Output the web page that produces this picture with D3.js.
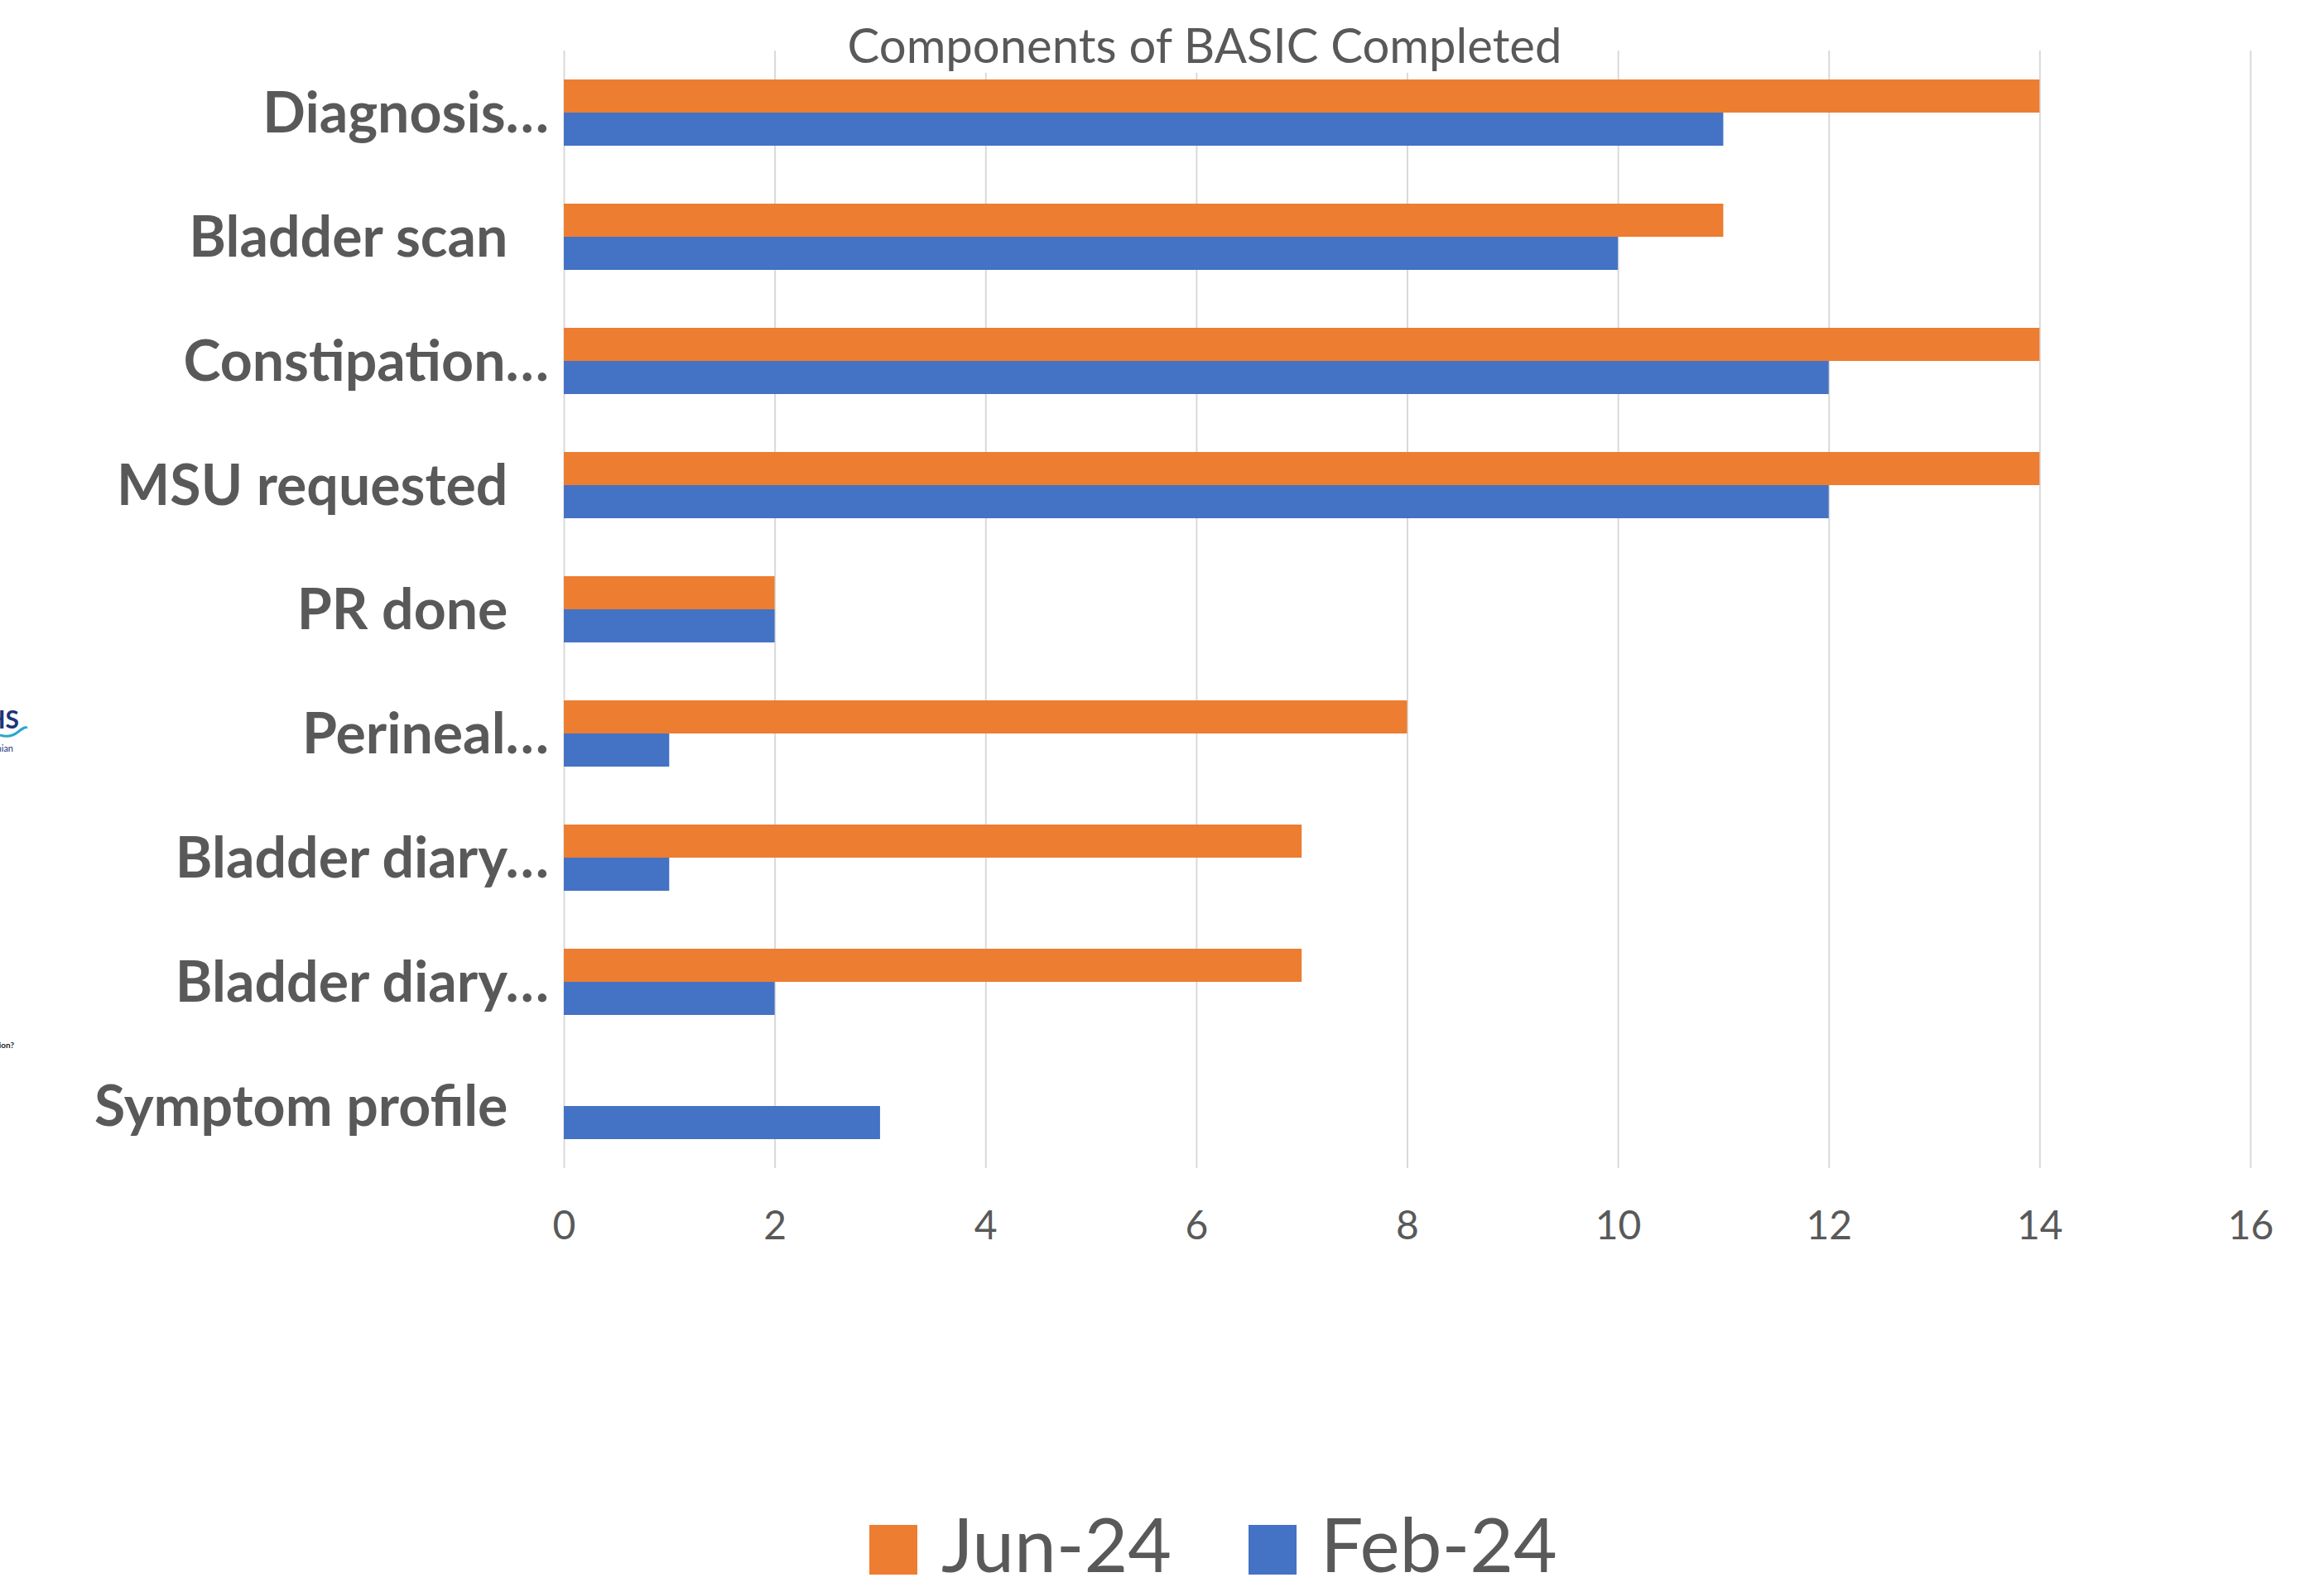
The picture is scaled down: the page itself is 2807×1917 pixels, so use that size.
<!DOCTYPE html>
<html>
<head>
<meta charset="utf-8">
<script src="https://cdn.jsdelivr.net/npm/d3@7"></script>
<style>
    html, body { margin: 0; padding: 0; background: #fff; }
    svg text { font-family: Lato, "Open Sans", sans-serif; }
</style>
</head>
<body>
<svg id="chart" width="2807" height="1917"></svg>
<script>
// categories top to bottom; trailing nbsp kept from the original labels
const categories = [
    'Diagnosis…',
    'Bladder scan\u00A0\u00A0\u00A0',
    'Constipation…',
    'MSU requested\u00A0\u00A0\u00A0',
    'PR done\u00A0\u00A0\u00A0',
    'Perineal…',
    'Bladder diary…',
    'Bladder diary… ',
    'Symptom profile\u00A0\u00A0\u00A0'
];
const seriesNames = ['Jun-24', 'Feb-24'];
const jun24 = [14, 11, 14, 14, 2, 8, 7, 7, 0];
const feb24 = [11, 10, 12, 12, 2, 1, 1, 2, 3];
const xTicks = [0, 2, 4, 6, 8, 10, 12, 14, 16];
const colors = {'Jun-24': '#ED7D31', 'Feb-24': '#4472C4'};

const TEXT = '#595959', GRID = '#D9D9D9';
const LEFT = 681, RIGHT = 2718, TOP = 61, BOTTOM = 1411;

const svg = d3.select('#chart');

const x = d3.scaleLinear().domain([0, 16]).range([LEFT, RIGHT]);
const y = d3.scaleBand().domain(categories).range([TOP, BOTTOM]);
const ySub = d3.scaleBand().domain(seriesNames).range([0, y.bandwidth()]).paddingOuter(0.875);

// gridlines + value labels
const xAxis = svg.append('g')
    .attr('transform', 'translate(0,' + BOTTOM + ')')
    .call(d3.axisBottom(x)
        .tickValues(xTicks)
        .tickSize(-(BOTTOM - TOP))
        .tickPadding(52)
        .tickFormat(d3.format('d')));
xAxis.select('.domain').remove();
xAxis.selectAll('.tick line').attr('stroke', GRID).attr('stroke-width', 2);
xAxis.selectAll('.tick text')
    .attr('fill', TEXT)
    .style('font-size', '48px');

// bars
const rows = categories.map((c, i) => ({cat: c, values: [
    {name: 'Jun-24', value: jun24[i]},
    {name: 'Feb-24', value: feb24[i]}
]}));

svg.append('g').selectAll('g')
    .data(rows)
    .enter()
    .append('g')
    .attr('transform', d => 'translate(0,' + y(d.cat) + ')')
    .selectAll('rect')
    .data(d => d.values.filter(v => v.value > 0))
    .enter()
    .append('rect')
    .attr('x', x(0))
    .attr('y', d => ySub(d.name))
    .attr('width', d => x(d.value) - x(0))
    .attr('height', ySub.bandwidth())
    .attr('fill', d => colors[d.name]);

// category labels
const yAxis = svg.append('g')
    .attr('transform', 'translate(' + LEFT + ',0)')
    .call(d3.axisLeft(y).tickSize(0).tickPadding(18));
yAxis.select('.domain').remove();
yAxis.selectAll('.tick text')
    .attr('fill', TEXT)
    .attr('dy', '0.36em')
    .style('font-size', '68px')
    .style('font-weight', 'bold');

// title, on a white box that hides the top of the gridlines
const titleG = svg.append('g');
const title = titleG.append('text')
    .attr('x', 1455)
    .attr('y', 76)
    .attr('text-anchor', 'middle')
    .attr('fill', TEXT)
    .style('font-size', '58px')
    .text('Components of BASIC Completed');
const tb = title.node().getBBox();
titleG.insert('rect', 'text')
    .attr('x', tb.x - 8).attr('y', 0)
    .attr('width', tb.width + 16).attr('height', 88)
    .attr('fill', '#fff');

// legend
const legend = svg.append('g').attr('transform', 'translate(0,1842)');
const legendX = {'Jun-24': 1050, 'Feb-24': 1508};
const item = legend.selectAll('g')
    .data(seriesNames)
    .enter()
    .append('g')
    .attr('transform', d => 'translate(' + legendX[d] + ',0)');
item.append('rect')
    .attr('width', 58).attr('height', 60)
    .attr('fill', d => colors[d]);
item.append('text')
    .attr('x', 87).attr('y', 57)
    .attr('fill', TEXT)
    .style('font-size', '91px')
    .text(d => d);

// bits of the slide logo peeking in at the left edge
const logo = svg.append('g');
logo.append('text')
    .attr('x', 23).attr('y', 880)
    .attr('text-anchor', 'end')
    .attr('fill', '#1d3577')
    .style('font-size', '30px').style('font-weight', 'bold')
    .text('NHS');
logo.append('path')
    .attr('d', 'M0,888 Q12,892 22,884 T32,880')
    .attr('fill', 'none').attr('stroke', '#2aa7c9').attr('stroke-width', 3);
logo.append('text')
    .attr('x', 16).attr('y', 908)
    .attr('text-anchor', 'end')
    .attr('fill', '#1d3577')
    .style('font-size', '11px')
    .text('Lothian');
logo.append('text')
    .attr('x', 17).attr('y', 1266)
    .attr('text-anchor', 'end')
    .attr('fill', '#222')
    .style('font-size', '10px').style('font-weight', 'bold')
    .text('question?');
</script>
</body>
</html>
